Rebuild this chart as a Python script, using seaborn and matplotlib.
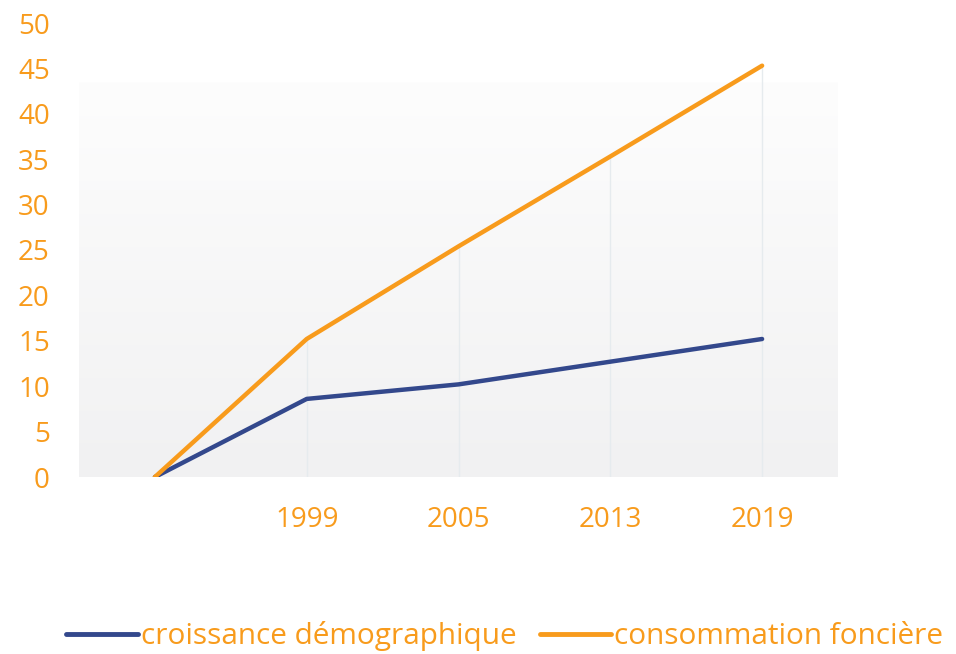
import numpy as np
import pandas as pd
import matplotlib
matplotlib.use("Agg")
import matplotlib.pyplot as plt
import seaborn as sns
from matplotlib.colors import LinearSegmentedColormap
from matplotlib.lines import Line2D

categories = ["", "1999", "2005", "2013", "2019"]
croissance = [0, 8.6, 10.2, 12.7, 15.2]
consommation = [0, 15.2, 25.4, 35.3, 45.3]
series_names = ["croissance démographique", "consommation foncière"]
yticks = [0, 5, 10, 15, 20, 25, 30, 35, 40, 45, 50]

sns.set_theme(style="white")
plt.rcParams['font.family'] = ['Open Sans', 'DejaVu Sans']

ORANGE = "#F89B1C"
BLUE = "#33488C"

pos = list(range(len(categories)))
df = pd.DataFrame({
    "x": pos * 2,
    "y": croissance + consommation,
    "serie": [series_names[0]] * len(pos) + [series_names[1]] * len(pos),
})

fig = plt.figure(figsize=(9.56, 6.54), dpi=100)
ax = fig.add_axes([79 / 956, 1 - 477 / 654, (838 - 79) / 956, (477 - 23) / 654])

# gradient background
grad = np.linspace(0, 1, 256).reshape(-1, 1)
cmap = LinearSegmentedColormap.from_list("bg", ["#f1f1f2", "#fdfdfd"])
ax.imshow(grad, aspect="auto", cmap=cmap, origin="lower",
          extent=[-0.5, len(categories) - 0.5, 0, 43.5], zorder=0)

# drop grid lines
for i in pos[1:]:
    ax.vlines(i, 0, consommation[i], color="#e6ebee", lw=1, zorder=1)

sns.lineplot(data=df, x="x", y="y", hue="serie",
             palette=[BLUE, ORANGE], linewidth=3.2, ax=ax, legend=False, zorder=3)

ax.set_xlim(-0.5, len(categories) - 0.5)
ax.set_ylim(0, 50)
ax.set_xticks(pos)
ax.set_xticklabels(categories)
ax.set_yticks(yticks)
ax.set_yticklabels([str(v) for v in yticks])
ax.tick_params(axis="both", colors=ORANGE, labelsize=20, length=0)
ax.tick_params(axis="x", pad=21)
ax.tick_params(axis="y", pad=21)
ax.set_xlabel("")
ax.set_ylabel("")
for s in ax.spines.values():
    s.set_visible(False)
ax.set_facecolor("none")

handles = [Line2D([], [], color=BLUE, lw=3.5, solid_capstyle="round"),
           Line2D([], [], color=ORANGE, lw=3.5, solid_capstyle="round")]
leg = fig.legend(handles, series_names, loc="center", bbox_to_anchor=(0.528, 1 - 636 / 654),
                 ncol=2, frameon=False, fontsize=21.4, handlelength=2.4,
                 handletextpad=0.1, columnspacing=0.8)
for t in leg.get_texts():
    t.set_color(ORANGE)

fig.savefig("out.png", dpi=100)
